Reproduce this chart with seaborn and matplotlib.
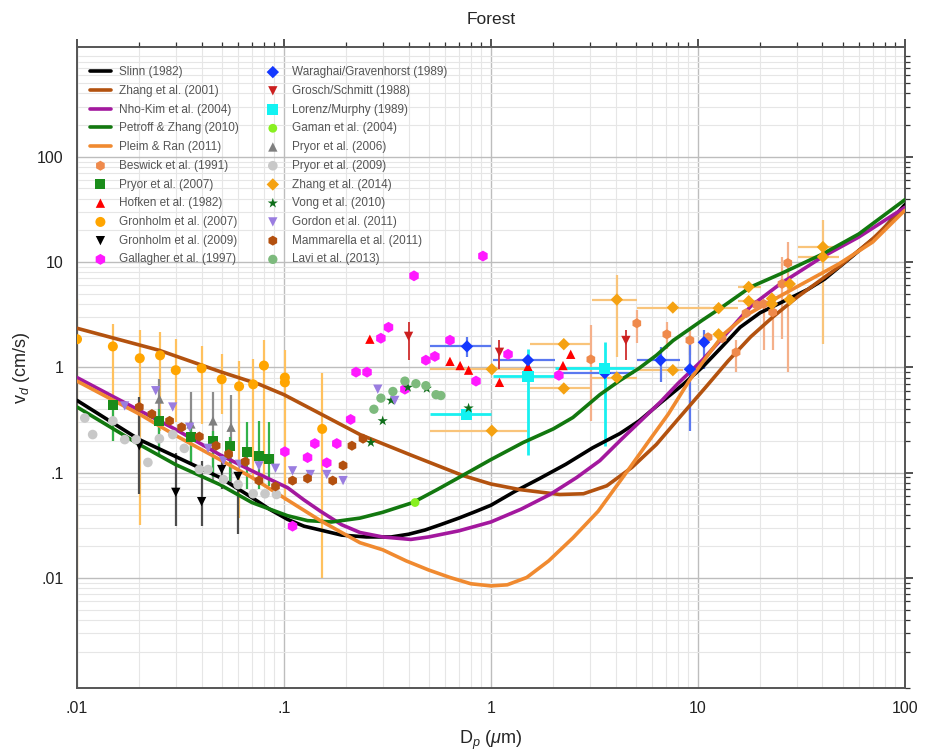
import numpy as np
import matplotlib
matplotlib.use("Agg")
import matplotlib.pyplot as plt
import matplotlib.ticker as mticker
import seaborn as sns

# ---- model curves (D_p in um, v_d in cm/s) ----
slinn_x = [0.01, 0.02, 0.03, 0.049, 0.07, 0.085, 0.104, 0.125, 0.15, 0.19, 0.25, 0.33, 0.4, 0.48,
           0.57, 0.7, 0.85, 1.0, 1.3, 1.72, 2.3, 3.1, 4.2, 5.2, 6.6, 8.5, 10.5, 13, 16, 20, 27,
           34, 41, 55, 75, 100]
slinn_y = [0.485, 0.206, 0.142, 0.09, 0.058, 0.045, 0.036, 0.031, 0.0285, 0.0255, 0.0245, 0.0245,
           0.026, 0.0285, 0.032, 0.037, 0.043, 0.049, 0.066, 0.088, 0.12, 0.172, 0.235, 0.31, 0.46,
           0.69, 1.0, 1.55, 2.4, 3.3, 4.4, 5.5, 6.9, 11.1, 18.5, 35]

zhang01_x = [0.01, 0.025, 0.05, 0.076, 0.1, 0.153, 0.233, 0.41, 0.73, 1.0, 1.38, 2.15, 2.8, 3.63,
             4.8, 6.3, 8, 11, 14, 18, 23, 30, 48, 70, 100]
zhang01_y = [2.35, 1.45, 0.9, 0.69, 0.55, 0.355, 0.23, 0.147, 0.094, 0.078, 0.069, 0.062, 0.063,
             0.075, 0.112, 0.185, 0.32, 0.66, 1.15, 1.95, 3.0, 4.6, 9.0, 16.6, 33]

nhokim_x = [0.01, 0.02, 0.03, 0.049, 0.07, 0.104, 0.125, 0.15, 0.19, 0.233, 0.3, 0.41, 0.5, 0.7,
            1.0, 1.4, 1.93, 2.6, 3.36, 4.3, 5.2, 6.6, 8, 10.5, 13, 18, 25, 40, 60, 100]
nhokim_y = [0.80, 0.39, 0.257, 0.148, 0.104, 0.072, 0.055, 0.043, 0.032, 0.027, 0.0245, 0.0232,
            0.0245, 0.028, 0.034, 0.045, 0.062, 0.09, 0.13, 0.21, 0.30, 0.47, 0.70, 1.17, 1.85,
            3.8, 6.2, 11.2, 17.3, 33]

petroff_x = [0.01, 0.02, 0.03, 0.049, 0.07, 0.104, 0.13, 0.17, 0.233, 0.3, 0.42, 0.55, 0.73, 1.0,
             1.43, 2.0, 2.49, 3.36, 4.2, 5.2, 6.3, 7.6, 10.5, 13, 18, 25, 40, 60, 100]
petroff_y = [0.42, 0.185, 0.119, 0.077, 0.052, 0.039, 0.035, 0.034, 0.037, 0.042, 0.052, 0.069,
             0.094, 0.133, 0.193, 0.26, 0.334, 0.55, 0.75, 0.98, 1.3, 1.8, 2.8, 3.7, 5.8, 7.7,
             11.9, 18.5, 39]

pleim_x = [0.01, 0.02, 0.03, 0.049, 0.07, 0.104, 0.15, 0.233, 0.3, 0.39, 0.5, 0.634, 0.8, 1.0,
           1.2, 1.49, 1.9, 2.49, 3.3, 4.7, 5.8, 7.2, 9.1, 11, 13.3, 17, 23, 30, 48, 70, 100]
pleim_y = [0.74, 0.36, 0.225, 0.133, 0.09, 0.055, 0.035, 0.0216, 0.0185, 0.0145, 0.0119, 0.0101,
           0.0088, 0.0084, 0.0086, 0.0101, 0.0145, 0.024, 0.043, 0.112, 0.2, 0.36, 0.75, 1.25,
           2.06, 3.1, 4.35, 5.8, 9.6, 15.5, 31]

# ---- measurements ----
beswick_x = [3.04, 5.07, 7.08, 9.15, 11.2, 13.1, 15.3, 17.1, 19.3, 20.8, 23.0, 25.5, 27.2]
beswick_y = [1.19, 2.62, 2.06, 1.81, 1.93, 1.89, 1.39, 3.27, 3.9, 4.0, 3.34, 6.2, 9.8]
beswick_lo = [0.31, 1.7, 1.5, 1.3, np.nan, np.nan, 0.9, np.nan, np.nan, 1.45, 1.45, 1.85, 0.9]
beswick_hi = [2.5, 3.5, 2.7, 2.3, np.nan, np.nan, 1.8, np.nan, np.nan, 4.35, 4.35, 11.2, 15.5]

pryor07_x = [0.015, 0.025, 0.0354, 0.0454, 0.055, 0.066, 0.0757, 0.0845]
pryor07_y = [0.435, 0.31, 0.22, 0.20, 0.18, 0.158, 0.145, 0.136]
pryor07_lo = [0.20, 0.15, 0.117, 0.09, 0.084, 0.07, 0.07, 0.075]
pryor07_hi = [0.52, 0.40, 0.31, 0.25, 0.22, 0.30, 0.31, 0.30]

hofken_x = [0.26, 0.634, 0.71, 0.78, 1.1, 1.51, 2.23, 2.43]
hofken_y = [1.85, 1.14, 1.04, 0.94, 0.72, 1.02, 1.04, 1.33]

gron07_x = [0.01, 0.0149, 0.0201, 0.0252, 0.030, 0.040, 0.050, 0.0607, 0.071, 0.080, 0.101, 0.101, 0.153]
gron07_y = [1.85, 1.58, 1.22, 1.30, 0.94, 0.98, 0.77, 0.66, 0.69, 1.04, 0.80, 0.72, 0.26]
gron07_lo = [0.01, 0.2, 0.032, 0.25, 0.3, 0.29, 0.36, 0.037, 0.086, 0.09, 0.054, np.nan, 0.01]
gron07_hi = [4.5, 2.6, 2.25, 2.15, 1.85, 1.6, 1.33, 1.16, 1.2, 1.8, 1.45, np.nan, 0.88]

gron09_x = [0.02, 0.03, 0.04, 0.05, 0.06]
gron09_y = [0.18, 0.065, 0.053, 0.107, 0.092]
gron09_lo = [0.062, 0.031, 0.031, 0.07, 0.026]
gron09_hi = [0.52, 0.155, 0.13, 0.15, 0.10]

gallagher_x = [0.11, 0.101, 0.13, 0.141, 0.161, 0.18, 0.21, 0.223, 0.252, 0.294, 0.32, 0.425,
               0.384, 0.485, 0.536, 0.634, 0.847, 0.915, 1.21, 2.13]
gallagher_y = [0.031, 0.158, 0.139, 0.189, 0.124, 0.189, 0.32, 0.9, 0.9, 1.89, 2.4, 7.4,
               0.62, 1.17, 1.27, 1.81, 0.74, 11.4, 1.33, 0.84]

waraghai_x = [0.766, 1.51, 3.55, 6.6, 9.15, 10.7]
waraghai_y = [1.58, 1.17, 0.88, 1.17, 0.96, 1.73]
waraghai_xlo = [0.51, 1.02, 2.04, 5.1, np.nan, np.nan]
waraghai_xhi = [1.0, 2.04, 4.9, 8.2, np.nan, np.nan]
waraghai_lo = [1.25, np.nan, np.nan, 0.72, 0.25, 0.96]
waraghai_hi = [1.93, np.nan, np.nan, 1.55, 1.8, 2.25]

grosch_x = [0.40, 1.1, 4.49]
grosch_y = [1.97, 1.39, 1.8]
grosch_lo = [1.17, 0.96, 1.17]
grosch_hi = [2.7, 1.8, 2.25]

lorenz_x = [0.76, 1.51, 3.55]
lorenz_y = [0.357, 0.82, 0.98]
lorenz_xlo = [0.51, 1.02, 2.04]
lorenz_xhi = [1.0, 2.04, 4.9]
lorenz_lo = [np.nan, 0.148, 0.18]
lorenz_hi = [np.nan, 1.48, 1.73]

gaman_x = [0.43]
gaman_y = [0.052]

pryor06_x = [0.025, 0.0355, 0.0454, 0.0555]
pryor06_y = [0.50, 0.29, 0.31, 0.27]
pryor06_lo = [0.15, 0.12, 0.086, 0.08]
pryor06_hi = [0.77, 0.58, 0.58, 0.55]

pryor09_x = [0.0109, 0.0119, 0.0149, 0.017, 0.0193, 0.022, 0.025, 0.029, 0.033, 0.039, 0.043,
             0.051, 0.06, 0.071, 0.081, 0.092]
pryor09_y = [0.33, 0.23, 0.31, 0.206, 0.206, 0.125, 0.21, 0.23, 0.17, 0.107, 0.107,
             0.086, 0.077, 0.063, 0.063, 0.062]

zhang14_x = [1.01, 1.01, 2.25, 2.25, 4.06, 4.06, 7.57, 7.57, 12.6, 12.6, 17.6, 17.6,
             22.8, 22.8, 27.8, 27.8, 40.2, 40.2]
zhang14_y = [0.96, 0.25, 1.66, 0.63, 4.4, 0.80, 3.7, 0.94, 3.65, 2.06, 5.8, 4.25,
             4.5, 4.0, 6.2, 4.4, 13.9, 11.2]
zhang14_xlo = [0.51, 0.51, 1.54, 1.54, 3.07, 3.07, 5.1, 5.1, 10.0, np.nan, 15.6, 15.6,
               np.nan, np.nan, np.nan, np.nan, 30.6, 30.6]
zhang14_xhi = [1.5, 1.5, 3.0, 3.0, 5.1, 5.1, 11.5, 8.5, 15.6, np.nan, 20.3, 20.3,
               np.nan, np.nan, np.nan, np.nan, 48, 48]
zhang14_lo = [np.nan, np.nan, np.nan, np.nan, 1.25, np.nan, np.nan, np.nan, np.nan, np.nan, np.nan, np.nan,
              np.nan, np.nan, np.nan, np.nan, 1.66, np.nan]
zhang14_hi = [np.nan, np.nan, np.nan, np.nan, 7.5, np.nan, np.nan, np.nan, np.nan, np.nan, np.nan, np.nan,
              np.nan, np.nan, np.nan, np.nan, 25, np.nan]

vong_x = [0.263, 0.30, 0.33, 0.397, 0.49, 0.78]
vong_y = [0.193, 0.31, 0.485, 0.645, 0.63, 0.41]

gordon_x = [0.017, 0.024, 0.029, 0.035, 0.043, 0.051, 0.061, 0.0757, 0.091, 0.11, 0.134, 0.161,
            0.193, 0.284, 0.343]
gordon_y = [0.43, 0.60, 0.42, 0.27, 0.17, 0.13, 0.12, 0.116, 0.11, 0.104, 0.096, 0.096,
            0.084, 0.62, 0.485]

mamma_x = [0.02, 0.023, 0.028, 0.032, 0.039, 0.047, 0.054, 0.065, 0.0757, 0.091, 0.11, 0.13,
           0.172, 0.193, 0.213, 0.241]
mamma_y = [0.42, 0.36, 0.31, 0.27, 0.22, 0.18, 0.15, 0.127, 0.084, 0.074, 0.084, 0.088,
           0.084, 0.117, 0.18, 0.21]

lavi_x = [0.272, 0.294, 0.336, 0.384, 0.434, 0.485, 0.543, 0.573]
lavi_y = [0.40, 0.51, 0.59, 0.74, 0.70, 0.67, 0.55, 0.54]

# ===============================
# figure
# ===============================
sns.set_style("white")
plt.rcParams['font.family'] = ['Liberation Sans', 'DejaVu Sans']
plt.rcParams['mathtext.fontset'] = 'custom'
plt.rcParams['mathtext.rm'] = 'Liberation Sans'
plt.rcParams['mathtext.it'] = 'Liberation Sans:italic'

fig = plt.figure(figsize=(9.28, 7.54), dpi=100)
ax = fig.add_axes([0.083, 0.0875, 0.892, 0.85])
ax.set_xscale('log')
ax.set_yscale('log')


def errs(x, y, xlo=None, xhi=None, lo=None, hi=None, color='gray', lw=1.6):
    x = np.array(x, float)
    y = np.array(y, float)
    yerr = None
    xerr = None
    if lo is not None:
        yerr = [y - np.array(lo, float), np.array(hi, float) - y]
    if xlo is not None:
        xerr = [x - np.array(xlo, float), np.array(xhi, float) - x]
    ax.errorbar(x, y, xerr=xerr, yerr=yerr, fmt='none', ecolor=color,
                elinewidth=lw, capsize=0, zorder=2)


# error bars first (behind the markers)
errs(gron07_x, gron07_y, lo=gron07_lo, hi=gron07_hi, color='#ffc15e')
errs(gron09_x, gron09_y, lo=gron09_lo, hi=gron09_hi, color='#4d4d4d')
errs(pryor06_x, pryor06_y, lo=pryor06_lo, hi=pryor06_hi, color='#8c8c8c')
errs(pryor07_x, pryor07_y, lo=pryor07_lo, hi=pryor07_hi, color='#33b24a')
errs(beswick_x, beswick_y, lo=beswick_lo, hi=beswick_hi, color='#f5b08a')
errs(zhang14_x, zhang14_y, xlo=zhang14_xlo, xhi=zhang14_xhi, color='#f9c47a')
errs(zhang14_x, zhang14_y, lo=zhang14_lo, hi=zhang14_hi, color='#f9c47a')
errs(waraghai_x, waraghai_y, xlo=waraghai_xlo, xhi=waraghai_xhi, color='#5a78f0')
errs(waraghai_x, waraghai_y, lo=waraghai_lo, hi=waraghai_hi, color='#5a78f0')
errs(lorenz_x, lorenz_y, xlo=lorenz_xlo, xhi=lorenz_xhi, color='#19f0f0', lw=2)
errs(lorenz_x, lorenz_y, lo=lorenz_lo, hi=lorenz_hi, color='#19f0f0', lw=2)
errs(grosch_x, grosch_y, lo=grosch_lo, hi=grosch_hi, color='#d23c3c', lw=1.4)

# model curves
curves = [
    ("Slinn (1982)", slinn_x, slinn_y, 'black'),
    ("Zhang et al. (2001)", zhang01_x, zhang01_y, '#b3520f'),
    ("Nho-Kim et al. (2004)", nhokim_x, nhokim_y, '#a3189e'),
    ("Petroff & Zhang (2010)", petroff_x, petroff_y, '#12780f'),
    ("Pleim & Ran (2011)", pleim_x, pleim_y, '#f08a30'),
]
for name, cx, cy, col in curves:
    sns.lineplot(x=cx, y=cy, color=col, lw=2.6, label=name, ax=ax,
                 estimator=None, sort=False, zorder=4)

# measurement markers
points = [
    ("Beswick et al. (1991)", beswick_x, beswick_y, 'h', '#ef8a4c', 52),
    ("Pryor et al. (2007)", pryor07_x, pryor07_y, 's', '#1a8c1a', 52),
    ("Hofken et al. (1982)", hofken_x, hofken_y, '^', '#ff0000', 45),
    ("Gronholm et al. (2007)", gron07_x, gron07_y, 'o', '#ffa500', 52),
    ("Gronholm et al. (2009)", gron09_x, gron09_y, 'v', 'black', 45),
    ("Gallagher et al. (1997)", gallagher_x, gallagher_y, 'h', '#ff19ff', 62),
    ("Waraghai/Gravenhorst (1989)", waraghai_x, waraghai_y, 'D', '#1438ff', 40),
    ("Grosch/Schmitt (1988)", grosch_x, grosch_y, 'v', '#cc2020', 45),
    ("Lorenz/Murphy (1989)", lorenz_x, lorenz_y, 's', '#12f2f2', 65),
    ("Gaman et al. (2004)", gaman_x, gaman_y, 'o', '#88f020', 40),
    ("Pryor et al. (2006)", pryor06_x, pryor06_y, '^', '#7f7f7f', 45),
    ("Pryor et al. (2009)", pryor09_x, pryor09_y, 'o', '#c8c8c8', 48),
    ("Zhang et al. (2014)", zhang14_x, zhang14_y, 'D', '#f5a212', 40),
    ("Vong et al. (2010)", vong_x, vong_y, '*', '#0f6e1a', 60),
    ("Gordon et al. (2011)", gordon_x, gordon_y, 'v', '#9a7de0', 45),
    ("Mammarella et al. (2011)", mamma_x, mamma_y, 'h', '#b3500f', 52),
    ("Lavi et al. (2013)", lavi_x, lavi_y, 'o', '#7dba7d', 45),
]
for name, px, py, mk, col, sz in points:
    sns.scatterplot(x=px, y=py, marker=mk, color=col, s=sz, edgecolor='none',
                    linewidth=0, label=name, ax=ax, zorder=5)

# axes
ax.set_xlim(0.01, 100)
ax.set_ylim(9e-4, 1.1e3)
ax.set_xticks([0.01, 0.1, 1, 10, 100])
ax.set_xticklabels(['.01', '.1', '1', '10', '100'])
ax.set_yticks([0.01, 0.1, 1, 10, 100])
ax.set_yticklabels(['.01', '.1', '1', '10', '100'])
ax.xaxis.set_minor_locator(mticker.LogLocator(base=10, subs=np.arange(2, 10)))
ax.yaxis.set_minor_locator(mticker.LogLocator(base=10, subs=np.arange(2, 10)))
ax.xaxis.set_minor_formatter(mticker.NullFormatter())
ax.yaxis.set_minor_formatter(mticker.NullFormatter())
ax.grid(which='major', color='#bdbdbd', lw=1.0)
ax.grid(which='minor', color='#e6e6e6', lw=0.8)
ax.set_axisbelow(True)
ax.tick_params(which='both', direction='out', top=True, right=True, colors='#333333',
               labelsize=11.5, labelcolor='#222222')
ax.tick_params(which='major', length=6, width=1.2)
ax.tick_params(which='minor', length=3.5, width=0.9)
for s in ax.spines.values():
    s.set_color('#555555')
    s.set_linewidth(1.4)

ax.set_title("Forest", fontsize=12.5, pad=17)
ax.set_xlabel(r"D$_p$ ($\mu$m)", fontsize=13, labelpad=9)
ax.set_ylabel(r"v$_d$ (cm/s)", fontsize=13, labelpad=4)

handles, labels = ax.get_legend_handles_labels()
leg = ax.legend(handles, labels, ncol=2, loc='upper left', frameon=False,
                fontsize=8.5, labelcolor='#555555', handlelength=1.8,
                handletextpad=0.7, columnspacing=1.95, labelspacing=0.57,
                borderaxespad=0.4, bbox_to_anchor=(0.004, 0.985))

fig.savefig("out.png", dpi=100)
